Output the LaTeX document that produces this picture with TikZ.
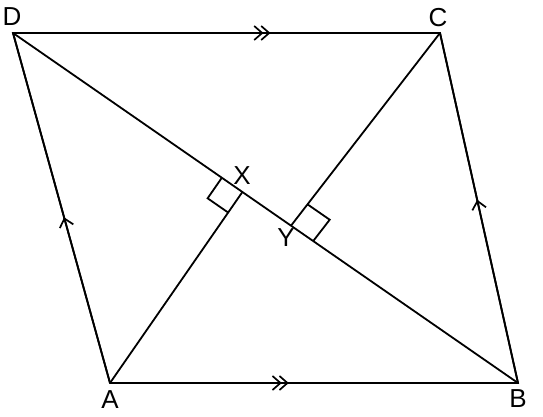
\documentclass[tikz,border=0pt]{standalone}
\usepackage{fontspec}
\setmainfont{Liberation Sans}
\usetikzlibrary{calc,decorations.markings}
\begin{document}
\begin{tikzpicture}[x=1pt,y=-1pt,
  edge/.style={line width=1.8pt,line join=miter},
  lab/.style={font=\fontsize{26}{30}\selectfont,inner sep=0pt},
  onetick/.style={postaction={decorate},decoration={markings,
    mark=at position #1 with {\draw[line width=1.7pt,line cap=butt,line join=miter] (-8pt,7pt)--(0pt,0pt)--(-8pt,-7pt);}}},
  twotick/.style={postaction={decorate},decoration={markings,
    mark=at position #1 with {\draw[line width=1.7pt,line cap=butt,line join=miter] (-15pt,7pt)--(-7pt,0pt)--(-15pt,-7pt) (-8pt,7pt)--(0pt,0pt)--(-8pt,-7pt);}}}]
\useasboundingbox (0,0) rectangle (543,417);
\coordinate (D) at (13,33);
\coordinate (C) at (440,33);
\coordinate (A) at (110,383);
\coordinate (B) at (518,383);
\coordinate (X) at (242.4,192.0);
\coordinate (Y) at (291,225.7);
% sides
\draw[edge,twotick=0.6] (D) -- (C);
\draw[edge,twotick=0.435] (A) -- (B);
\draw[edge,onetick=0.47] (A) -- (D);
\draw[edge,onetick=0.52] (B) -- (C);
\draw[edge] (D) -- (C) -- (B) -- (A) -- cycle;
% diagonal and perpendiculars
\draw[edge] (D) -- (B);
\draw[edge] (A) -- (X);
\draw[edge] (C) -- (Y);
% right-angle marks
\coordinate (X1) at ($(X)!25pt!(D)$);
\coordinate (X2) at ($(X)!25pt!(A)$);
\coordinate (X3) at ($(X1)+(X2)-(X)$);
\draw[edge] (X1) -- (X3) -- (X2);
\coordinate (Y1) at ($(Y)!27pt!(C)$);
\coordinate (Y2) at ($(Y)!27pt!(B)$);
\coordinate (Y3) at ($(Y1)+(Y2)-(Y)$);
\draw[edge] (Y1) -- (Y3) -- (Y2);
% labels
\node[lab] (lD) at (12,17) {D};
\node[lab] (lC) at (438,18) {C};
\node[lab] (lA) at (110,400) {A};
\node[lab] (lB) at (518,399) {B};
\node[lab] (lX) at (242,176) {X};
\node[lab] (lY) at (286,238) {Y};
\end{tikzpicture}
\end{document}
